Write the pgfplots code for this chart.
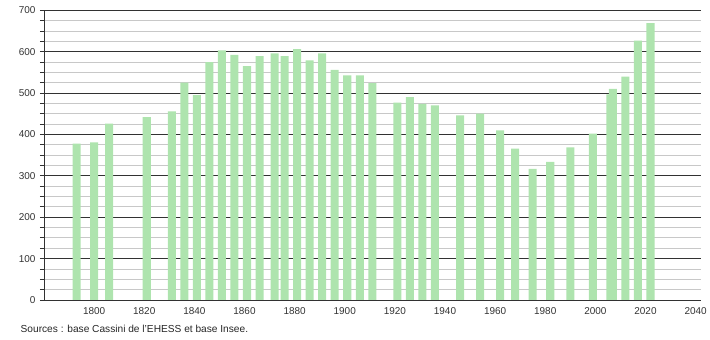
\documentclass[border=0pt]{standalone}
\usepackage{fontspec}
\setmainfont{Liberation Sans}
\usepackage{pgfplots}
\pgfplotsset{compat=1.18}
\definecolor{bargreen}{RGB}{174,228,174}
\definecolor{majgrid}{RGB}{50,50,50}
\definecolor{mingrid}{RGB}{200,200,200}
\begin{document}
\begin{tikzpicture}
\path (0,0) rectangle (710bp,340bp);
\begin{axis}[
  at={(44bp,40bp)}, anchor=south west,
  scale only axis, width=656.7bp, height=289.7bp,
  xmin=1780, xmax=2042, ymin=0, ymax=700,
  axis x line*=bottom, axis y line*=left,
  axis line style={majgrid, line width=0.9pt},
  xtick={1800,1820,...,2040},
  x tick label style={/pgf/number format/1000 sep={}},
  xtick style={draw=none},
  ytick={0,100,...,700},
  minor y tick num=3,
  ymajorgrids, yminorgrids,
  major grid style={majgrid, line width=0.8pt},
  minor grid style={mingrid, line width=0.8pt},
  y tick style={majgrid, line width=0.8pt},
  tick align=outside,
  major tick length=4bp, minor tick length=4bp,
  /pgf/number format/assume math mode=true,
  tick label style={font=\fontsize{10}{12}\selectfont, text=black!80},
  yticklabel style={xshift=-1bp},
  xticklabel style={yshift=0bp},
  clip=false,
]
\addplot[ybar, bar width=3.2, fill=bargreen, draw=none] coordinates {
(1793,378) (1800,381) (1806,426) (1821,442) (1831,456) (1836,525)
(1841,495) (1846,575) (1851,603) (1856,592) (1861,565) (1866,589)
(1872,596) (1876,589) (1881,606) (1886,579) (1891,596) (1896,556)
(1901,543) (1906,543) (1911,524) (1921,477) (1926,490) (1931,474)
(1936,470) (1946,446) (1954,450) (1962,410) (1968,366) (1975,317)
(1982,334) (1990,369) (1999,402) (2006,497) (2007,510) (2012,540)
(2017,627) (2022,669)
};
\end{axis}
\node[anchor=west, inner sep=0pt, font=\fontsize{10.2}{12}\selectfont, text=black!85] at (20.5bp,11bp) {Sources : base Cassini de l'EHESS et base Insee.};
\end{tikzpicture}
\end{document}
